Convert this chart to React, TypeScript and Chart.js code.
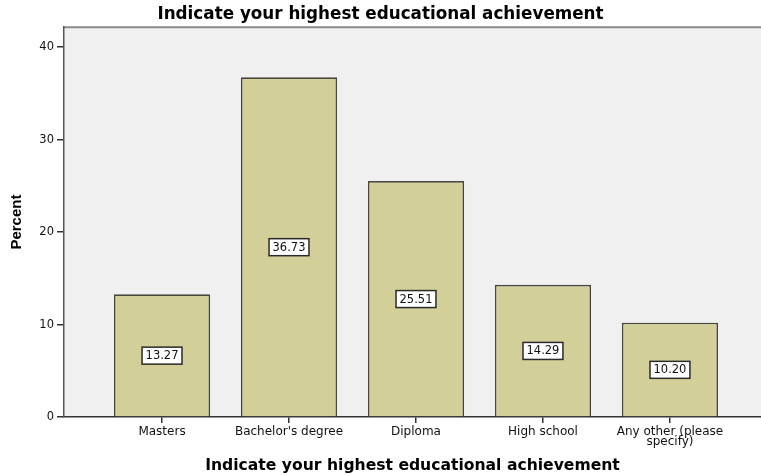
import React, { useEffect, useRef } from "react";
import { Chart, registerables } from "chart.js";

Chart.register(...registerables);

const categories = ["Masters", "Bachelor's degree", "Diploma", "High school", ["Any other (please", "specify)"]];
const percents = [13.27, 36.73, 25.51, 14.29, 10.2];
const yTickValues = [0, 10, 20, 30, 40];
const chartTitle = "Indicate your highest educational achievement";
const xAxisTitle = "Indicate your highest educational achievement";
const yAxisTitle = "Percent";

const plotBgPlugin = {
  id: "plotBg",
  beforeDraw(chart: any) {
    const { ctx, chartArea } = chart;
    ctx.save();
    ctx.fillStyle = "#f0f0f0";
    ctx.fillRect(chartArea.left, chartArea.top, chartArea.right - chartArea.left, chartArea.bottom - chartArea.top);
    ctx.strokeStyle = "#8a8a8a";
    ctx.lineWidth = 2;
    ctx.beginPath();
    ctx.moveTo(chartArea.left, chartArea.top);
    ctx.lineTo(chartArea.right, chartArea.top);
    ctx.stroke();
    ctx.restore();
  },
};

const valueBoxPlugin = {
  id: "valueBox",
  afterDatasetsDraw(chart: any) {
    const { ctx } = chart;
    const meta = chart.getDatasetMeta(0);
    const yScale = chart.scales.y;
    ctx.save();
    ctx.font = "11.5px 'DejaVu Sans'";
    ctx.textAlign = "center";
    ctx.textBaseline = "middle";
    meta.data.forEach((bar: any, i: number) => {
      const v = percents[i];
      const text = v.toFixed(2);
      const cx = bar.x;
      const cy = yScale.getPixelForValue(v / 2);
      const w = ctx.measureText(text).width + 7;
      const h = 17;
      ctx.fillStyle = "#ffffff";
      ctx.fillRect(cx - w / 2, cy - h / 2, w, h);
      ctx.strokeStyle = "#2a2a2a";
      ctx.lineWidth = 1.5;
      ctx.strokeRect(cx - w / 2, cy - h / 2, w, h);
      ctx.fillStyle = "#111111";
      ctx.fillText(text, cx, cy + 0.5);
    });
    ctx.restore();
  },
};

export default function App() {
  const canvasRef = useRef<HTMLCanvasElement | null>(null);

  useEffect(() => {
    document.body.style.margin = "0";
    const canvas = canvasRef.current;
    if (!canvas) return;
    const chart = new Chart(canvas, {
      type: "bar",
      data: {
        datasets: [
          {
            data: percents.map((v, i) => ({ x: i, y: v })),
            backgroundColor: "#d3cf98",
            borderColor: "#46463c",
            borderWidth: 1.6,
            categoryPercentage: 1,
            barPercentage: 0.757,
          },
        ],
      },
      options: {
        animation: false,
        responsive: false,
        maintainAspectRatio: false,
        layout: { padding: { left: 0, right: 0, top: 0, bottom: 0 } },
        plugins: {
          legend: { display: false },
          tooltip: { enabled: false },
          title: {
            display: true,
            text: chartTitle,
            color: "#000000",
            font: { family: "'DejaVu Sans'", weight: "bold", size: 16.8, lineHeight: 1.2 },
            padding: { top: 5, bottom: 2 },
          },
        },
        scales: {
          x: {
            type: "linear",
            min: -0.772,
            max: 4.717,
            offset: false,
            afterBuildTicks(scale: any) {
              scale.ticks = categories.map((_, i) => ({ value: i }));
            },
            afterFit(scale: any) {
              scale.height = 58;
            },
            ticks: {
              autoSkip: false,
              maxRotation: 0,
              color: "#111111",
              padding: 4,
              font: { family: "'DejaVu Sans'", size: 12, lineHeight: 0.85 },
              callback: (value: any) => categories[value as number] as any,
            },
            grid: {
              offset: false,
              drawOnChartArea: false,
              drawTicks: true,
              tickLength: 6,
              color: "#333333",
              lineWidth: 1.5,
            },
            border: { display: true, color: "#333333", width: 1.5 },
            title: {
              display: true,
              text: xAxisTitle,
              color: "#000000",
              font: { family: "'DejaVu Sans'", weight: "bold", size: 15.6, lineHeight: 1.2 },
              padding: { top: 0, bottom: 0 },
            },
          },
          y: {
            min: 0,
            max: 42.16,
            afterBuildTicks(scale: any) {
              scale.ticks = yTickValues.map((v) => ({ value: v }));
            },
            afterFit(scale: any) {
              scale.width = 64;
            },
            ticks: {
              color: "#111111",
              padding: 3,
              font: { family: "'DejaVu Sans'", size: 11.5 },
            },
            grid: {
              drawOnChartArea: false,
              drawTicks: true,
              tickLength: 7,
              color: "#333333",
              lineWidth: 1.5,
            },
            border: { display: true, color: "#555555", width: 1.5 },
            title: {
              display: true,
              text: yAxisTitle,
              color: "#000000",
              font: { family: "'Liberation Sans'", weight: "bold", size: 15, lineHeight: 1.2 },
              padding: { top: 8, bottom: 0 },
            },
          },
        },
      },
      plugins: [plotBgPlugin, valueBoxPlugin],
    } as any);
    return () => chart.destroy();
  }, []);

  return (
    <div style={{ position: "absolute", left: 0, top: 0, width: 761, height: 475, background: "#ffffff" }}>
      <canvas ref={canvasRef} width={761} height={475} style={{ width: 761, height: 475, display: "block" }} />
    </div>
  );
}
